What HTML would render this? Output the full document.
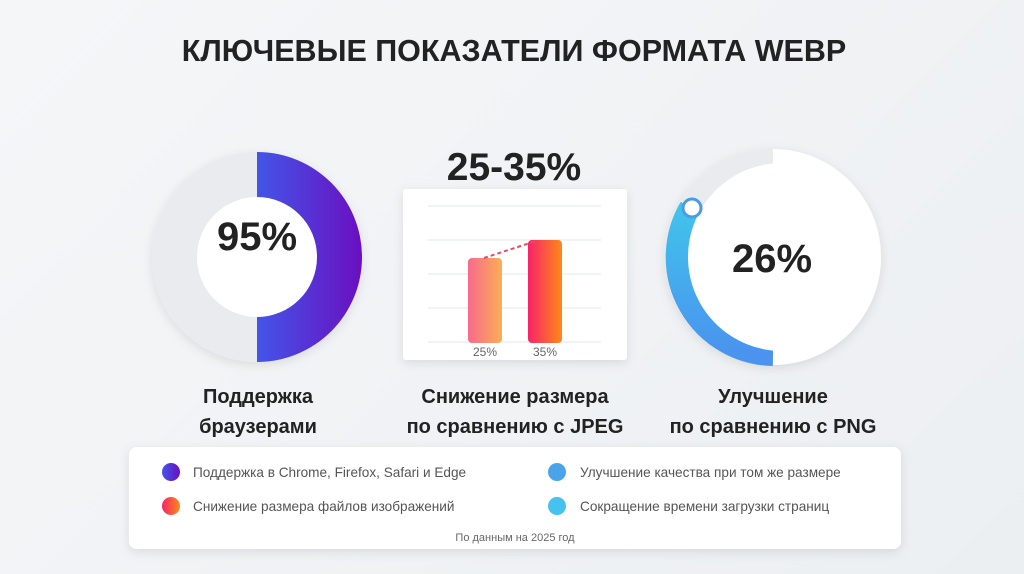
<!DOCTYPE html>
<html><head><meta charset="utf-8"><style>
html,body{margin:0;padding:0;width:1024px;height:574px;overflow:hidden;background:linear-gradient(135deg,#f5f6f8,#eceff2);font-family:"Liberation Sans",sans-serif}
svg{position:absolute;left:0;top:0}
</style></head><body>
<svg width="1024" height="574" viewBox="0 0 1024 574">
<defs>
<linearGradient id="pb" x1="0" x2="1"><stop offset="0" stop-color="#4355e8"/><stop offset="1" stop-color="#6a0fc0"/></linearGradient>
<linearGradient id="o1" x1="0" x2="1"><stop offset="0" stop-color="#f76a8c"/><stop offset="1" stop-color="#fbae56"/></linearGradient>
<linearGradient id="o2" x1="0" x2="1"><stop offset="0" stop-color="#f7236a"/><stop offset="1" stop-color="#fd8a18"/></linearGradient>
<linearGradient id="bl" x1="0" y1="0" x2="0" y2="1"><stop offset="0" stop-color="#41c3ec"/><stop offset="1" stop-color="#4a93ee"/></linearGradient>
<filter id="sh" x="-20%" y="-20%" width="140%" height="140%"><feDropShadow dx="0" dy="3" stdDeviation="5" flood-color="#000" flood-opacity="0.1"/></filter>
</defs>
<text x="514" y="61" text-anchor="middle" font-size="30.5" font-weight="bold" fill="#222">КЛЮЧЕВЫЕ ПОКАЗАТЕЛИ ФОРМАТА WEBP</text>

<!-- donut 1 -->
<circle cx="257" cy="257" r="105" fill="#e9ebee" filter="url(#sh)"/>
<path d="M257 152 A105 105 0 0 1 257 362 Z" fill="url(#pb)"/>
<circle cx="257" cy="257" r="60" fill="#fff"/>
<text x="257" y="250" text-anchor="middle" font-size="40" font-weight="bold" fill="#222">95%</text>

<!-- bar chart -->
<text x="514" y="180" text-anchor="middle" font-size="39" font-weight="bold" fill="#222">25-35%</text>
<rect x="403" y="189" width="224" height="171" rx="3" fill="#fff" filter="url(#sh)"/>
<g stroke="#e6e8ea" stroke-width="1">
<line x1="428" y1="206" x2="601" y2="206"/><line x1="428" y1="240" x2="601" y2="240"/><line x1="428" y1="274" x2="601" y2="274"/><line x1="428" y1="308" x2="601" y2="308"/><line x1="428" y1="342" x2="601" y2="342"/></g>
<rect x="468" y="258" width="34" height="85" rx="4" fill="url(#o1)"/>
<rect x="528" y="240" width="34" height="103" rx="4" fill="url(#o2)"/>
<line x1="484" y1="258" x2="536" y2="241" stroke="#e84a5f" stroke-width="2" stroke-dasharray="4,3"/>
<text x="485" y="356" text-anchor="middle" font-size="12" fill="#666">25%</text>
<text x="545" y="356" text-anchor="middle" font-size="12" fill="#666">35%</text>

<!-- gauge 3 -->
<circle cx="773" cy="257" r="108" fill="#e9ebee" filter="url(#sh)"/>
<path d="M773 149 A108 108 0 0 1 773 365 Z" fill="#fff"/>
<path d="M773 354 A97 97 0 0 1 691 208" fill="none" stroke="url(#bl)" stroke-width="24"/>
<circle cx="782" cy="257" r="94" fill="#fff"/>
<circle cx="692" cy="208" r="9" fill="#fff" stroke="#4a9ae8" stroke-width="3"/>
<text x="772" y="272" text-anchor="middle" font-size="40" font-weight="bold" fill="#222">26%</text>

<!-- labels -->
<g font-size="20" font-weight="bold" fill="#222" text-anchor="middle">
<text x="258" y="403">Поддержка</text><text x="258" y="433">браузерами</text>
<text x="515" y="403">Снижение размера</text><text x="515" y="433">по сравнению с JPEG</text>
<text x="773" y="403">Улучшение</text><text x="773" y="433">по сравнению с PNG</text>
</g>

<!-- legend -->
<rect x="129" y="447" width="772" height="102" rx="8" fill="#fff" filter="url(#sh)"/>
<circle cx="171" cy="472" r="9" fill="url(#pb)"/>
<circle cx="171" cy="506" r="9" fill="url(#o2)"/>
<circle cx="557" cy="472" r="9" fill="#4aa4ea"/>
<circle cx="557" cy="506" r="9" fill="#45c2ee"/>
<g font-size="13.6" fill="#555">
<text x="193" y="477">Поддержка в Chrome, Firefox, Safari и Edge</text>
<text x="193" y="511">Снижение размера файлов изображений</text>
<text x="580" y="477">Улучшение качества при том же размере</text>
<text x="580" y="511">Сокращение времени загрузки страниц</text>
<text x="515" y="541" text-anchor="middle" font-size="11" fill="#666">По данным на 2025 год</text>
</g>
</svg>
</body></html>
